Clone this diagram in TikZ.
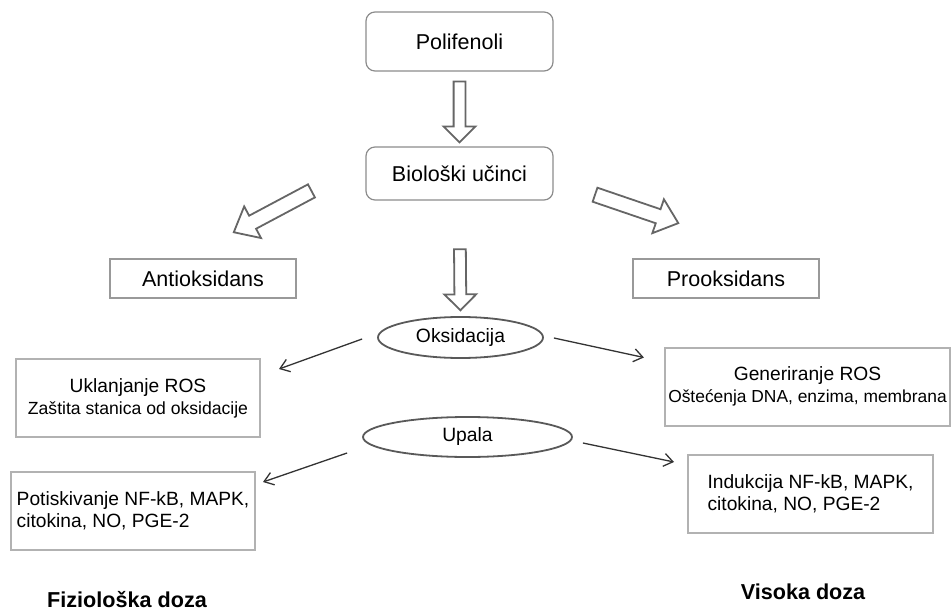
\documentclass[tikz,border=0pt]{standalone}
\usepackage{fontspec}
\setmainfont{Liberation Sans}
\usetikzlibrary{arrows.meta,positioning,shapes.geometric,shapes.arrows}

\begin{document}
\begin{tikzpicture}[
    x=1pt, y=-1pt,
    topbox/.style={rectangle, rounded corners=9pt, draw=black!45, line width=1.2pt,
                   minimum width=187pt, font=\fontsize{21.5}{26}\selectfont},
    sidebox/.style={rectangle, draw=black!40, line width=1.8pt,
                    minimum width=186pt, minimum height=39pt, font=\fontsize{21.5}{26}\selectfont},
    effect/.style={rectangle, draw=black!30, line width=2pt, fill=white,
                   minimum height=78pt, font=\fontsize{19.2}{22}\selectfont},
    oval/.style={ellipse, draw=black!65, line width=1.8pt, font=\fontsize{19.3}{23}\selectfont},
    dose/.style={font=\fontsize{21.6}{26}\selectfont\bfseries},
    hollow/.style={single arrow, draw=black!60, line width=1.8pt, fill=white,
                   inner sep=5pt, single arrow head extend=10pt, minimum height=61pt,
                   sloped, allow upside down},
    wide/.style={inner sep=6.5pt, single arrow head extend=10.5pt,
                 minimum height=88pt, single arrow tip angle=80},
    arr/.style={-{Straight Barb[length=9pt, width=13pt]}, line width=1.3pt, draw=black!80}
]
    \useasboundingbox (0,0) rectangle (952,612);

    \node[topbox, minimum height=59pt] (poli) at (459.5,41.5) {Polifenoli};
    \node[topbox, minimum height=53pt] (bio) at (459.5,173.5) {Biološki učinci};
    \node[sidebox] (anti) at (203,278.5) {Antioksidans};
    \node[sidebox] (pro) at (726,278.5) {Prooksidans};

    \node[oval, minimum width=165pt, minimum height=41pt] (oks) at (460.5,337.5) {Oksidacija};
    \node[oval, minimum width=209pt, minimum height=40pt] (upala) at (467.5,437) {Upala};

    \node[effect, minimum width=244pt, align=center] (ukl) at (138,398)
        {Uklanjanje ROS\\{\fontsize{17.6}{21}\selectfont Zaštita stanica od oksidacije}};
    \node[effect, minimum width=244pt, align=left] (pot) at (133,511)
        {Potiskivanje NF-kB, MAPK,\\citokina, NO, PGE-2};
    \node[effect, minimum width=285pt, align=center] (gen) at (807.5,386.5)
        {Generiranje ROS\\{\fontsize{17.4}{21}\selectfont Oštećenja DNA, enzima, membrana}};
    \node[effect, minimum width=245pt, align=left] (ind) at (810.5,494)
        {Indukcija NF-kB, MAPK,\\citokina, NO, PGE-2};

    \node[dose] (fiz) at (127,600) {Fiziološka doza};
    \node[dose] (vis) at (803,592) {Visoka doza};

    % hollow arrows
    \path (poli.south) -- node[hollow] (down1) {} (bio.north);
    \path (bio.south) -- node[hollow, pos=0.66] (down2) {} (oks.north);
    \coordinate (lt) at (315,189);
    \coordinate (lh) at (238,230);
    \path (lt) -- node[hollow, wide] (toanti) {} (lh);
    \coordinate (rt) at (590,193);
    \coordinate (rh) at (675,222);
    \path (rt) -- node[hollow, wide] (topro) {} (rh);

    % thin arrows
    \draw[arr] ([shift={(-15,1.5)}]oks.west) -- ([shift={(18,11)}]ukl.north east);
    \draw[arr] ([shift={(10,0.5)}]oks.east) -- ([shift={(-20,11)}]gen.north west);
    \draw[arr] ([shift={(-15,16)}]upala.west) -- ([shift={(7,11)}]pot.north east);
    \draw[arr] ([shift={(10,6)}]upala.east) -- ([shift={(-13,8)}]ind.north west);
\end{tikzpicture}
\end{document}
